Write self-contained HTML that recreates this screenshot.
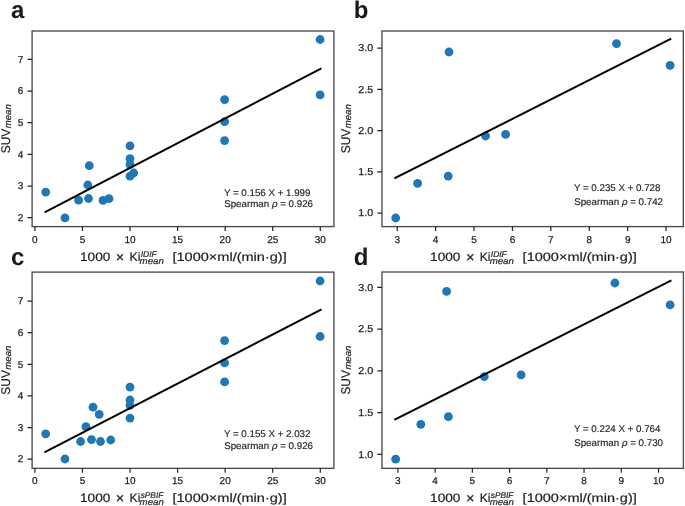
<!DOCTYPE html>
<html><head><meta charset="utf-8"><style>
html,body{margin:0;padding:0;background:#fff;}
svg{display:block;font-family:"Liberation Sans",sans-serif;will-change:transform;text-rendering:geometricPrecision;}
</style></head><body>
<svg width="685" height="506" viewBox="0 0 685 506">
<rect width="685" height="506" fill="#fff"/>
<g fill="#1f77b4"><circle cx="45.7" cy="192.1" r="4.4"/><circle cx="65" cy="217.9" r="4.4"/><circle cx="78.6" cy="200.2" r="4.4"/><circle cx="87.8" cy="185" r="4.4"/><circle cx="89.3" cy="165.7" r="4.4"/><circle cx="88.5" cy="198.5" r="4.4"/><circle cx="103" cy="200.4" r="4.4"/><circle cx="109" cy="198.7" r="4.4"/><circle cx="130" cy="145.8" r="4.4"/><circle cx="130" cy="158.7" r="4.4"/><circle cx="130" cy="164.4" r="4.4"/><circle cx="133.7" cy="173" r="4.4"/><circle cx="130" cy="176.2" r="4.4"/><circle cx="224.6" cy="99.6" r="4.4"/><circle cx="224.6" cy="121.6" r="4.4"/><circle cx="224.6" cy="140.6" r="4.4"/><circle cx="320.1" cy="39.5" r="4.4"/><circle cx="320.1" cy="94.9" r="4.4"/></g>
<line x1="45.5" y1="211.9" x2="320.5" y2="68.8" stroke="#000" stroke-width="2.0" stroke-linecap="square"/>
<rect x="32.1" y="31" width="301.8" height="195.6" fill="none" stroke="#4a4a4a" stroke-width="1.35"/>
<path d="M34.9 226.6v4.4M82.47 226.6v4.4M130.03 226.6v4.4M177.59 226.6v4.4M225.16 226.6v4.4M272.72 226.6v4.4M320.29 226.6v4.4M32.1 217.7h-4.6M32.1 186.04h-4.6M32.1 154.38h-4.6M32.1 122.72h-4.6M32.1 91.06h-4.6M32.1 59.4h-4.6" stroke="#222" stroke-width="1.2" fill="none"/>
<g font-size="10.0" fill="#1e1e1e" stroke="#1e1e1e" stroke-width="0.25"><text x="34.9" y="242.6" text-anchor="middle">0</text><text x="82.47" y="242.6" text-anchor="middle">5</text><text x="130.03" y="242.6" text-anchor="middle">10</text><text x="177.59" y="242.6" text-anchor="middle">15</text><text x="225.16" y="242.6" text-anchor="middle">20</text><text x="272.72" y="242.6" text-anchor="middle">25</text><text x="320.29" y="242.6" text-anchor="middle">30</text><text x="23.3" y="220.9" text-anchor="end">2</text><text x="23.3" y="189.24" text-anchor="end">3</text><text x="23.3" y="157.58" text-anchor="end">4</text><text x="23.3" y="125.92" text-anchor="end">5</text><text x="23.3" y="94.26" text-anchor="end">6</text><text x="23.3" y="62.6" text-anchor="end">7</text></g>
<g font-size="9.75" fill="#222" stroke="#222" stroke-width="0.15"><text x="223.9" y="195.5">Y = 0.156 X + 1.999</text><text x="224.2" y="207.3">Spearman <tspan font-style="italic">ρ</tspan> = 0.926</text></g>
<text x="11" y="18.1" font-size="24" font-weight="bold" fill="#1a1a1a">a</text>
<g fill="#1e1e1e" stroke="#1e1e1e" stroke-width="0.2">
<text x="80" y="261" font-size="12.2" textLength="30.3" lengthAdjust="spacingAndGlyphs">1000</text>
<text x="120.05" y="261.6" font-size="14.5" text-anchor="middle">×</text>
<text x="129.55" y="261" font-size="12.2">Ki</text>
<text x="140.7" y="256.6" font-size="8.4" font-style="italic" textLength="16" lengthAdjust="spacingAndGlyphs">IDIF</text>
<text x="139.6" y="263.6" font-size="9.0" font-style="italic" textLength="24.2" lengthAdjust="spacingAndGlyphs">mean</text>
<text x="172.5" y="261" font-size="12.2" textLength="114.2" lengthAdjust="spacingAndGlyphs">[1000×ml/(min·g)]</text>
</g>
<g transform="translate(10 153.25) rotate(-90)" fill="#1e1e1e" stroke="#1e1e1e" stroke-width="0.2"><text x="0" y="0" font-size="12.6" textLength="24.6" lengthAdjust="spacingAndGlyphs">SUV</text><text x="25" y="1.2" font-size="9.4" font-style="italic" textLength="24.0" lengthAdjust="spacingAndGlyphs">mean</text></g>
<g fill="#1f77b4"><circle cx="395.7" cy="218" r="4.4"/><circle cx="417.6" cy="183.4" r="4.4"/><circle cx="448.2" cy="176.1" r="4.4"/><circle cx="449" cy="52" r="4.4"/><circle cx="485.6" cy="136" r="4.4"/><circle cx="505.6" cy="134.3" r="4.4"/><circle cx="616.5" cy="43.6" r="4.4"/><circle cx="670.1" cy="65.3" r="4.4"/></g>
<line x1="395.3" y1="178" x2="670.3" y2="39.1" stroke="#000" stroke-width="2.0" stroke-linecap="square"/>
<rect x="381.95" y="31" width="301.4" height="195.6" fill="none" stroke="#4a4a4a" stroke-width="1.35"/>
<path d="M397.2 226.6v4.4M435.61 226.6v4.4M474.02 226.6v4.4M512.43 226.6v4.4M550.84 226.6v4.4M589.25 226.6v4.4M627.66 226.6v4.4M666.07 226.6v4.4M381.95 213.1h-4.6M381.95 171.88h-4.6M381.95 130.65h-4.6M381.95 89.42h-4.6M381.95 48.2h-4.6" stroke="#222" stroke-width="1.2" fill="none"/>
<g font-size="10.0" fill="#1e1e1e" stroke="#1e1e1e" stroke-width="0.25"><text x="397.2" y="242.6" text-anchor="middle">3</text><text x="435.61" y="242.6" text-anchor="middle">4</text><text x="474.02" y="242.6" text-anchor="middle">5</text><text x="512.43" y="242.6" text-anchor="middle">6</text><text x="550.84" y="242.6" text-anchor="middle">7</text><text x="589.25" y="242.6" text-anchor="middle">8</text><text x="627.66" y="242.6" text-anchor="middle">9</text><text x="666.07" y="242.6" text-anchor="middle">10</text><text x="373.15" y="216.3" text-anchor="end" textLength="14.9" lengthAdjust="spacingAndGlyphs">1.0</text><text x="373.15" y="175.07" text-anchor="end" textLength="14.9" lengthAdjust="spacingAndGlyphs">1.5</text><text x="373.15" y="133.85" text-anchor="end" textLength="14.9" lengthAdjust="spacingAndGlyphs">2.0</text><text x="373.15" y="92.62" text-anchor="end" textLength="14.9" lengthAdjust="spacingAndGlyphs">2.5</text><text x="373.15" y="51.4" text-anchor="end" textLength="14.9" lengthAdjust="spacingAndGlyphs">3.0</text></g>
<g font-size="9.75" fill="#222" stroke="#222" stroke-width="0.15"><text x="573.9" y="190.7">Y = 0.235 X + 0.728</text><text x="574.2" y="205">Spearman <tspan font-style="italic">ρ</tspan> = 0.742</text></g>
<text x="353.7" y="17.6" font-size="24" font-weight="bold" fill="#1a1a1a">b</text>
<g fill="#1e1e1e" stroke="#1e1e1e" stroke-width="0.2">
<text x="430.1" y="261" font-size="12.2" textLength="30.3" lengthAdjust="spacingAndGlyphs">1000</text>
<text x="470.15" y="261.6" font-size="14.5" text-anchor="middle">×</text>
<text x="479.65" y="261" font-size="12.2">Ki</text>
<text x="490.8" y="256.6" font-size="8.4" font-style="italic" textLength="16" lengthAdjust="spacingAndGlyphs">IDIF</text>
<text x="489.7" y="263.6" font-size="9.0" font-style="italic" textLength="24.2" lengthAdjust="spacingAndGlyphs">mean</text>
<text x="522.6" y="261" font-size="12.2" textLength="114.2" lengthAdjust="spacingAndGlyphs">[1000×ml/(min·g)]</text>
</g>
<g transform="translate(349.8 153.25) rotate(-90)" fill="#1e1e1e" stroke="#1e1e1e" stroke-width="0.2"><text x="0" y="0" font-size="12.6" textLength="24.6" lengthAdjust="spacingAndGlyphs">SUV</text><text x="25" y="1.2" font-size="9.4" font-style="italic" textLength="24.0" lengthAdjust="spacingAndGlyphs">mean</text></g>
<g fill="#1f77b4"><circle cx="45.7" cy="433.8" r="4.4"/><circle cx="65" cy="459" r="4.4"/><circle cx="80.6" cy="441.5" r="4.4"/><circle cx="85.9" cy="426.7" r="4.4"/><circle cx="93" cy="407.2" r="4.4"/><circle cx="99.2" cy="414.3" r="4.4"/><circle cx="91.5" cy="439.6" r="4.4"/><circle cx="100.5" cy="441.5" r="4.4"/><circle cx="110.7" cy="440" r="4.4"/><circle cx="130" cy="387.1" r="4.4"/><circle cx="130" cy="400" r="4.4"/><circle cx="130" cy="405.3" r="4.4"/><circle cx="130" cy="418.1" r="4.4"/><circle cx="224.6" cy="340.6" r="4.4"/><circle cx="224.6" cy="362.9" r="4.4"/><circle cx="224.6" cy="381.9" r="4.4"/><circle cx="320.1" cy="281" r="4.4"/><circle cx="320.1" cy="336.5" r="4.4"/></g>
<line x1="45.3" y1="452" x2="320.6" y2="309.8" stroke="#000" stroke-width="2.0" stroke-linecap="square"/>
<rect x="32.1" y="272.1" width="301.8" height="196.25" fill="none" stroke="#4a4a4a" stroke-width="1.35"/>
<path d="M34.9 468.35v4.4M82.47 468.35v4.4M130.03 468.35v4.4M177.59 468.35v4.4M225.16 468.35v4.4M272.72 468.35v4.4M320.29 468.35v4.4M32.1 459.2h-4.6M32.1 427.58h-4.6M32.1 395.96h-4.6M32.1 364.34h-4.6M32.1 332.72h-4.6M32.1 301.1h-4.6" stroke="#222" stroke-width="1.2" fill="none"/>
<g font-size="10.0" fill="#1e1e1e" stroke="#1e1e1e" stroke-width="0.25"><text x="34.9" y="483.85" text-anchor="middle">0</text><text x="82.47" y="483.85" text-anchor="middle">5</text><text x="130.03" y="483.85" text-anchor="middle">10</text><text x="177.59" y="483.85" text-anchor="middle">15</text><text x="225.16" y="483.85" text-anchor="middle">20</text><text x="272.72" y="483.85" text-anchor="middle">25</text><text x="320.29" y="483.85" text-anchor="middle">30</text><text x="23.3" y="462.4" text-anchor="end">2</text><text x="23.3" y="430.78" text-anchor="end">3</text><text x="23.3" y="399.16" text-anchor="end">4</text><text x="23.3" y="367.54" text-anchor="end">5</text><text x="23.3" y="335.92" text-anchor="end">6</text><text x="23.3" y="304.3" text-anchor="end">7</text></g>
<g font-size="9.75" fill="#222" stroke="#222" stroke-width="0.15"><text x="223.9" y="436.7">Y = 0.155 X + 2.032</text><text x="224.2" y="448.6">Spearman <tspan font-style="italic">ρ</tspan> = 0.926</text></g>
<text x="11" y="264.5" font-size="24" font-weight="bold" fill="#1a1a1a">c</text>
<g fill="#1e1e1e" stroke="#1e1e1e" stroke-width="0.2">
<text x="80" y="502.4" font-size="12.2" textLength="30.3" lengthAdjust="spacingAndGlyphs">1000</text>
<text x="120.05" y="503" font-size="14.5" text-anchor="middle">×</text>
<text x="129.55" y="502.4" font-size="12.2">Ki</text>
<text x="140.7" y="498" font-size="8.4" font-style="italic" textLength="22.6" lengthAdjust="spacingAndGlyphs">sPBIF</text>
<text x="139.6" y="505" font-size="9.0" font-style="italic" textLength="24.2" lengthAdjust="spacingAndGlyphs">mean</text>
<text x="172.5" y="502.4" font-size="12.2" textLength="114.2" lengthAdjust="spacingAndGlyphs">[1000×ml/(min·g)]</text>
</g>
<g transform="translate(10 394.68) rotate(-90)" fill="#1e1e1e" stroke="#1e1e1e" stroke-width="0.2"><text x="0" y="0" font-size="12.6" textLength="24.6" lengthAdjust="spacingAndGlyphs">SUV</text><text x="25" y="1.2" font-size="9.4" font-style="italic" textLength="24.0" lengthAdjust="spacingAndGlyphs">mean</text></g>
<g fill="#1f77b4"><circle cx="395.7" cy="459.2" r="4.4"/><circle cx="420.8" cy="424.3" r="4.4"/><circle cx="448.4" cy="416.7" r="4.4"/><circle cx="446.6" cy="291.4" r="4.4"/><circle cx="484.3" cy="376.6" r="4.4"/><circle cx="521.1" cy="374.8" r="4.4"/><circle cx="614.9" cy="283" r="4.4"/><circle cx="670.1" cy="304.9" r="4.4"/></g>
<line x1="395.2" y1="419.3" x2="670.5" y2="280.8" stroke="#000" stroke-width="2.0" stroke-linecap="square"/>
<rect x="381.95" y="272" width="301.45" height="196.35" fill="none" stroke="#4a4a4a" stroke-width="1.35"/>
<path d="M397.9 468.35v4.4M435.13 468.35v4.4M472.36 468.35v4.4M509.59 468.35v4.4M546.82 468.35v4.4M584.05 468.35v4.4M621.28 468.35v4.4M658.51 468.35v4.4M381.95 454.3h-4.6M381.95 412.55h-4.6M381.95 370.8h-4.6M381.95 329.05h-4.6M381.95 287.3h-4.6" stroke="#222" stroke-width="1.2" fill="none"/>
<g font-size="10.0" fill="#1e1e1e" stroke="#1e1e1e" stroke-width="0.25"><text x="397.9" y="483.85" text-anchor="middle">3</text><text x="435.13" y="483.85" text-anchor="middle">4</text><text x="472.36" y="483.85" text-anchor="middle">5</text><text x="509.59" y="483.85" text-anchor="middle">6</text><text x="546.82" y="483.85" text-anchor="middle">7</text><text x="584.05" y="483.85" text-anchor="middle">8</text><text x="621.28" y="483.85" text-anchor="middle">9</text><text x="658.51" y="483.85" text-anchor="middle">10</text><text x="373.15" y="457.5" text-anchor="end" textLength="14.9" lengthAdjust="spacingAndGlyphs">1.0</text><text x="373.15" y="415.75" text-anchor="end" textLength="14.9" lengthAdjust="spacingAndGlyphs">1.5</text><text x="373.15" y="374" text-anchor="end" textLength="14.9" lengthAdjust="spacingAndGlyphs">2.0</text><text x="373.15" y="332.25" text-anchor="end" textLength="14.9" lengthAdjust="spacingAndGlyphs">2.5</text><text x="373.15" y="290.5" text-anchor="end" textLength="14.9" lengthAdjust="spacingAndGlyphs">3.0</text></g>
<g font-size="9.75" fill="#222" stroke="#222" stroke-width="0.15"><text x="573.9" y="432.4">Y = 0.224 X + 0.764</text><text x="574.2" y="446.3">Spearman <tspan font-style="italic">ρ</tspan> = 0.730</text></g>
<text x="353.8" y="264.7" font-size="24" font-weight="bold" fill="#1a1a1a">d</text>
<g fill="#1e1e1e" stroke="#1e1e1e" stroke-width="0.2">
<text x="430.1" y="502.4" font-size="12.2" textLength="30.3" lengthAdjust="spacingAndGlyphs">1000</text>
<text x="470.15" y="503" font-size="14.5" text-anchor="middle">×</text>
<text x="479.65" y="502.4" font-size="12.2">Ki</text>
<text x="490.8" y="498" font-size="8.4" font-style="italic" textLength="22.6" lengthAdjust="spacingAndGlyphs">sPBIF</text>
<text x="489.7" y="505" font-size="9.0" font-style="italic" textLength="24.2" lengthAdjust="spacingAndGlyphs">mean</text>
<text x="522.6" y="502.4" font-size="12.2" textLength="114.2" lengthAdjust="spacingAndGlyphs">[1000×ml/(min·g)]</text>
</g>
<g transform="translate(349.8 394.62) rotate(-90)" fill="#1e1e1e" stroke="#1e1e1e" stroke-width="0.2"><text x="0" y="0" font-size="12.6" textLength="24.6" lengthAdjust="spacingAndGlyphs">SUV</text><text x="25" y="1.2" font-size="9.4" font-style="italic" textLength="24.0" lengthAdjust="spacingAndGlyphs">mean</text></g>
</svg>
</body></html>
